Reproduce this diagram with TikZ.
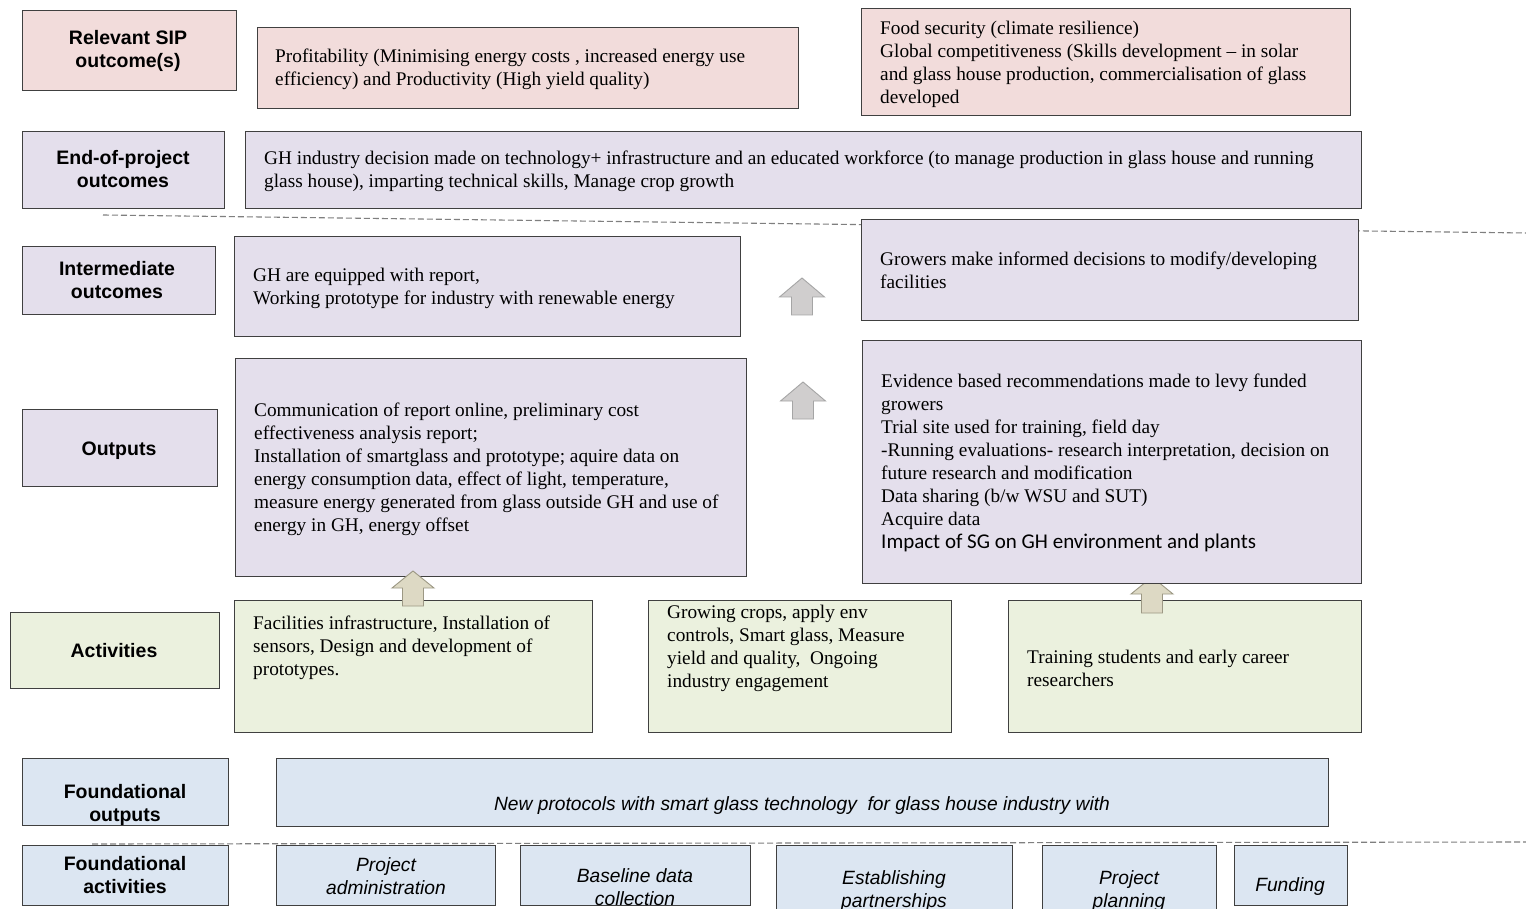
\documentclass[tikz,border=0pt]{standalone}
\usepackage{fontspec}
\setmainfont{Liberation Serif}
\newfontfamily\arialf{Liberation Sans}
\newfontfamily\carlitof{Carlito}
\definecolor{pinkf}{HTML}{F2DCDB}
\definecolor{lavf}{HTML}{E4DFEC}
\definecolor{greenf}{HTML}{EBF1DE}
\definecolor{bluef}{HTML}{DCE6F2}
\definecolor{edgec}{HTML}{404040}
\definecolor{grayar}{HTML}{D0CECE}
\definecolor{grayare}{HTML}{A5A5A5}
\definecolor{beigear}{HTML}{DDD9C4}
\definecolor{beigeare}{HTML}{9C9884}
\definecolor{dashc}{HTML}{7F7F7F}
\tikzset{
  x=1pt, y=-1pt,
  bx/.style={draw=edgec, line width=0.9pt, anchor=north west, inner sep=0pt, outer sep=0pt},
  lab/.style={font=\arialf\bfseries\fontsize{19.5}{23}\selectfont, align=center, inner sep=0pt, yshift=-2pt},
  txt/.style={font=\fontsize{19.3}{23}\selectfont, align=left, inner sep=0pt, anchor=west, yshift=-2pt},
  itl/.style={font=\arialf\itshape\fontsize{19.2}{23}\selectfont, align=center, inner sep=0pt, yshift=-1pt},
  sep/.style={draw=dashc, line width=1.1pt, dash pattern=on 6pt off 3pt},
  grayarrow/.style={draw=grayare, fill=grayar, line width=0.9pt, line join=miter},
  beigearrow/.style={draw=beigeare, fill=beigear, line width=0.9pt, line join=miter},
}
\begin{document}
\begin{tikzpicture}
\useasboundingbox (0,0) rectangle (1526,909);
\clip (0,0) rectangle (1526,909);
\fill[white] (0,0) rectangle (1526,909);

% dashed separators
\coordinate (d1a) at (103,215);
\coordinate (d1b) at (1526,233);
\coordinate (d2a) at (92,844);
\coordinate (d2b) at (1526,842);
\draw[sep] (d1a) -- (d1b);
\draw[sep] (d2a) -- (d2b);

% ---- left labels ----
\node[bx, fill=pinkf, minimum width=214pt, minimum height=80pt] (l1) at (22,10) {};
\node[lab] (l1t) at (128,49) {Relevant SIP\\outcome(s)};
\node[bx, fill=lavf, minimum width=202pt, minimum height=77pt] (l2) at (22,131) {};
\node[lab] (l2t) at (123,167) {End-of-project\\outcomes};
\node[bx, fill=lavf, minimum width=193pt, minimum height=68pt] (l3) at (22,246) {};
\node[lab] (l3t) at (117,278) {Intermediate\\outcomes};
\node[bx, fill=lavf, minimum width=195pt, minimum height=77pt] (l4) at (22,409) {};
\node[lab] (l4t) at (119,449) {Outputs};
\node[bx, fill=greenf, minimum width=209pt, minimum height=76pt] (l5) at (10,612) {};
\node[lab] (l5t) at (114,649) {Activities};
\node[bx, fill=bluef, minimum width=206pt, minimum height=67pt] (l6) at (22,758) {};
\node[lab] (l6t) at (125,803) {Foundational\\outputs};
\node[bx, fill=bluef, minimum width=206pt, minimum height=60pt] (l7) at (22,845) {};
\node[lab] (l7t) at (125,873) {Foundational\\activities};

% ---- SIP outcomes ----
\node[bx, fill=pinkf, minimum width=541pt, minimum height=81pt] (s1) at (257,27) {};
\node[txt] (s1t) at (275,67) {Profitability (Minimising energy costs , increased energy use\\efficiency) and Productivity (High yield quality)};
\node[bx, fill=pinkf, minimum width=489pt, minimum height=107pt] (s2) at (861,8) {};
\node[txt] (s2t) at (880,62) {Food security (climate resilience)\\Global competitiveness (Skills development -- in solar\\and glass house production, commercialisation of glass\\developed};

% ---- End of project ----
\node[bx, fill=lavf, minimum width=1116pt, minimum height=77pt] (e1) at (245,131) {};
\node[txt] (e1t) at (264,169) {GH industry decision made on technology+ infrastructure and an educated workforce (to manage production in glass house and running\\glass house), imparting technical skills, Manage crop growth};

% ---- Intermediate ----
\node[bx, fill=lavf, minimum width=506pt, minimum height=100pt] (i1) at (234,236) {};
\node[txt] (i1t) at (253,286) {GH are equipped with report,\\Working prototype for industry with renewable energy};
\node[bx, fill=lavf, minimum width=497pt, minimum height=101pt] (i2) at (861,219) {};
\node[txt] (i2t) at (880,268) {Growers make informed decisions to modify/developing\\facilities};

% ---- Activities ----
\node[bx, fill=greenf, minimum width=358pt, minimum height=132pt] (a1) at (234,600) {};
\node[txt, anchor=north west] (a1t) at (253,614) {Facilities infrastructure, Installation of\\sensors, Design and development of\\prototypes.};
\node[bx, fill=greenf, minimum width=303pt, minimum height=132pt] (a2) at (648,600) {};
\node[txt, anchor=north west] (a2t) at (667,603) {Growing crops, apply env\\controls, Smart glass, Measure\\yield and quality,\ \ Ongoing\\industry engagement};
\node[bx, fill=greenf, minimum width=353pt, minimum height=132pt] (a3) at (1008,600) {};
\node[txt] (a3t) at (1027,666) {Training students and early career\\researchers};

% beige arrow behind outputs right
\coordinate (ba2) at (1152,577);
\draw[beigearrow] (ba2) -- ++(21,17) -- ++(-10.5,0) -- ++(0,19) -- ++(-21,0) -- ++(0,-19) -- ++(-10.5,0) -- cycle;

% ---- Outputs ----
\node[bx, fill=lavf, minimum width=511pt, minimum height=218pt] (o1) at (235,358) {};
\node[txt] (o1t) at (254,467) {Communication of report online, preliminary cost\\effectiveness analysis report;\\Installation of smartglass and prototype; aquire data on\\energy consumption data, effect of light, temperature,\\measure energy generated from glass outside GH and use of\\energy in GH, energy offset};
\node[bx, fill=lavf, minimum width=499pt, minimum height=243pt] (o2) at (862,340) {};
\node[txt] (o2t) at (881,461) {Evidence based recommendations made to levy funded\\growers\\Trial site used for training, field day\\-Running evaluations- research interpretation, decision on\\future research and modification\\Data sharing (b/w WSU and SUT)\\Acquire data\\{\carlitof\fontsize{21}{23}\selectfont Impact of SG on GH environment and plants}};

% ---- Foundational ----
\node[bx, fill=bluef, minimum width=1052pt, minimum height=68pt] (f1) at (276,758) {};
\node[itl] (f1t) at (802,805) {New protocols with smart glass technology\ \ for glass house industry with};
\node[bx, fill=bluef, minimum width=219pt, minimum height=60pt] (b1) at (276,845) {};
\node[itl] (b1t) at (386,875) {Project\\administration};
\node[bx, fill=bluef, minimum width=230pt, minimum height=60pt] (b2) at (520,845) {};
\node[itl] (b2t) at (635,886) {Baseline data\\collection};
\node[bx, fill=bluef, minimum width=236pt, minimum height=90pt] (b3) at (776,845) {};
\node[itl] (b3t) at (894,890) {Establishing\\partnerships};
\node[bx, fill=bluef, minimum width=174pt, minimum height=90pt] (b4) at (1042,845) {};
\node[itl] (b4t) at (1129,890) {Project\\planning};
\node[bx, fill=bluef, minimum width=113pt, minimum height=60pt] (b5) at (1234,845) {};
\node[itl] (b5t) at (1290,886) {Funding};

% ---- block arrows ----
\coordinate (ga1) at (802,278);
\draw[grayarrow] (ga1) -- ++(22.5,19) -- ++(-12,0) -- ++(0,18) -- ++(-21,0) -- ++(0,-18) -- ++(-12,0) -- cycle;
\coordinate (ga2) at (803,382);
\draw[grayarrow] (ga2) -- ++(22.5,19) -- ++(-12,0) -- ++(0,18) -- ++(-21,0) -- ++(0,-18) -- ++(-12,0) -- cycle;
\coordinate (ba1) at (413,571);
\draw[beigearrow] (ba1) -- ++(21,17) -- ++(-10.5,0) -- ++(0,18) -- ++(-21,0) -- ++(0,-18) -- ++(-10.5,0) -- cycle;
\end{tikzpicture}
\end{document}
